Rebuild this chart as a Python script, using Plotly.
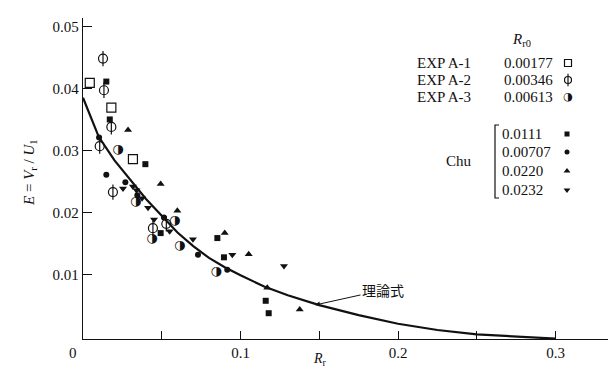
import plotly.graph_objects as go

# ---------------- data ----------------
# EXP A-1 (R_r0 = 0.00177), open square
a1_x = [0.0043, 0.0180, 0.0317]
a1_y = [0.0409, 0.0369, 0.0286]
# EXP A-2 (R_r0 = 0.00346), circle with vertical bar
a2_x = [0.0127, 0.0133, 0.0180, 0.0106, 0.0190, 0.0444, 0.0529]
a2_y = [0.0448, 0.0397, 0.0338, 0.0307, 0.0233, 0.0175, 0.0182]
# EXP A-3 (R_r0 = 0.00613), half-filled circle
a3_x = [0.0222, 0.0335, 0.0582, 0.0438, 0.0614, 0.0846]
a3_y = [0.0302, 0.0217, 0.0187, 0.0158, 0.0146, 0.0105]
# Chu 0.0111, filled square
c1_x = [0.0148, 0.0170, 0.0396, 0.0493, 0.0853, 0.0895, 0.1160, 0.1179]
c1_y = [0.0411, 0.0350, 0.0278, 0.0167, 0.0159, 0.0128, 0.0058, 0.0038]
# Chu 0.00707, filled circle
c2_x = [0.0102, 0.0148, 0.0269, 0.0345, 0.0514, 0.0730, 0.0916]
c2_y = [0.0321, 0.0261, 0.0249, 0.0228, 0.0192, 0.0132, 0.0108]
# Chu 0.0220, triangle up
c3_x = [0.0286, 0.0493, 0.0599, 0.0900, 0.1052, 0.1170, 0.1376]
c3_y = [0.0333, 0.0246, 0.0203, 0.0167, 0.0133, 0.0079, 0.0044]
# Chu 0.0232, triangle down
c4_x = [0.0254, 0.0317, 0.0340, 0.0375, 0.0413, 0.0451, 0.0550, 0.0698, 0.0948, 0.1276]
c4_y = [0.0239, 0.0242, 0.0236, 0.0223, 0.0208, 0.0189, 0.0170, 0.0157, 0.0132, 0.0114]
# theoretical curve (理論式)
th_x = [0.0, 0.01, 0.02, 0.03, 0.04, 0.05, 0.06, 0.07, 0.08, 0.09, 0.10,
        0.115, 0.13, 0.15, 0.175, 0.20, 0.225, 0.25, 0.275, 0.30]
th_y = [0.0385, 0.0322, 0.0284, 0.0253, 0.0222, 0.0195, 0.0168, 0.0146, 0.0127,
        0.0112, 0.0099, 0.0081, 0.0067, 0.0051, 0.0035, 0.0021, 0.0011, 0.0004,
        0.0000, -0.0003]

legend_names = ["EXP A-1", "EXP A-2", "EXP A-3"]
legend_vals = ["0.00177", "0.00346", "0.00613"]
chu_vals = ["0.0111", "0.00707", "0.0220", "0.0232"]

x_ticks = [0.10, 0.20, 0.30]
x_ticktext = ["0.1", "0.2", "0.3"]
x_minor = [0.05, 0.15, 0.25]
y_ticks = [0.01, 0.02, 0.03, 0.04, 0.05]
y_ticktext = ["0.01", "0.02", "0.03", "0.04", "0.05"]

# ---------------- helpers: pixel -> data / paper ----------------
L, T, W, H = 75, 10, 540, 321

def X(px):
    return (px - 75) / 1575.0

def Y(py):
    return (328.8 - py) / 6210.0

def PX(px):
    return (px - L) / W

def PY(py):
    return (T + H - py) / H

SERIF = "Liberation Serif, Times New Roman, serif"
BLACK = "#111111"

fig = go.Figure()

# theoretical curve
fig.add_trace(go.Scatter(x=th_x, y=th_y, mode="lines",
                         line=dict(color=BLACK, width=2.2), showlegend=False))

def sq_open(x, y, size=9):
    return go.Scatter(x=x, y=y, mode="markers", showlegend=False,
                      marker=dict(symbol="square-open", size=size,
                                  color=BLACK, line=dict(width=1.2, color=BLACK)))

def phi(x, y, size=9):
    t1 = go.Scatter(x=x, y=y, mode="markers", showlegend=False,
                    marker=dict(symbol="circle-open", size=size,
                                color=BLACK, line=dict(width=1.2, color=BLACK)))
    t2 = go.Scatter(x=x, y=y, mode="markers", showlegend=False,
                    marker=dict(symbol="line-ns-open", size=size + 2,
                                color=BLACK, line=dict(width=1.2, color=BLACK)))
    return [t1, t2]

def half(x, y, size=13):
    return go.Scatter(x=x, y=y, mode="text", text=["◑"] * len(x), showlegend=False,
                      textposition="middle center",
                      textfont=dict(family="DejaVu Sans", size=size, color=BLACK))

def filled(x, y, symbol, size):
    return go.Scatter(x=x, y=y, mode="markers", showlegend=False,
                      marker=dict(symbol=symbol, size=size, color=BLACK,
                                  line=dict(width=0)))

fig.add_trace(sq_open(a1_x, a1_y))
for t in phi(a2_x, a2_y):
    fig.add_trace(t)
fig.add_trace(half(a3_x, a3_y))
fig.add_trace(filled(c1_x, c1_y, "square", 6))
fig.add_trace(filled(c2_x, c2_y, "circle", 6))
fig.add_trace(filled(c3_x, c3_y, "triangle-up", 7))
fig.add_trace(filled(c4_x, c4_y, "triangle-down", 7))

# ---------------- custom legend ----------------
def label(px, py, text, xanchor="left", size=15, family=SERIF, **kw):
    d = dict(xref="paper", yref="paper", x=PX(px), y=PY(py), text=text,
             showarrow=False, xanchor=xanchor, yanchor="middle",
             font=dict(family=family, size=size, color=BLACK))
    d.update(kw)
    return d

ann = []
ann.append(label(513, 32, "<i>R</i><sub>r0</sub>", xanchor="center"))
rows_y = [55, 72, 89]
for name, val, py in zip(legend_names, legend_vals, rows_y):
    ann.append(label(407, py, name))
    ann.append(label(494, py, val))
fig.add_trace(sq_open([X(560)], [Y(rows_y[0])], size=7))
for t in phi([X(560)], [Y(rows_y[1])], size=7):
    fig.add_trace(t)
fig.add_trace(half([X(560)], [Y(rows_y[2])], size=11))

chu_y = [126, 144, 163, 182]
for val, py in zip(chu_vals, chu_y):
    ann.append(label(492, py, val))
fig.add_trace(filled([X(559)], [Y(chu_y[0])], "square", 5))
fig.add_trace(filled([X(559)], [Y(chu_y[1])], "circle", 5))
fig.add_trace(filled([X(559)], [Y(chu_y[2])], "triangle-up", 6))
fig.add_trace(filled([X(559)], [Y(chu_y[3])], "triangle-down", 6))
ann.append(label(451, 153, "Chu", xanchor="center"))

shapes = [
    dict(type="path", xref="paper", yref="paper",
         path=f"M {PX(491)} {PY(117)} L {PX(487)} {PY(117)} L {PX(487)} {PY(190)} L {PX(491)} {PY(190)}",
         line=dict(color=BLACK, width=1.2)),
]

# axis titles and origin label
ann.append(label(65, 345, "0", xanchor="center"))
ann.append(label(312, 352, "<i>R</i><sub>r</sub>", xanchor="center", size=14))
ann.append(label(22, 165, "<i>E</i> = <i>V</i><sub>r</sub> / <i>U</i><sub>1</sub>",
                 xanchor="center", textangle=-90))
# 理論式 arrow
ann.append(dict(x=X(307), y=Y(297), ax=68, ay=-15, text="理論式",
                showarrow=True, arrowhead=2, arrowsize=1, arrowwidth=1,
                arrowcolor=BLACK, standoff=0,
                font=dict(family="Noto Sans CJK JP", size=14, color=BLACK)))

fig.update_layout(
    width=616, height=374,
    margin=dict(l=L, r=616 - L - W, t=T, b=374 - T - H),
    plot_bgcolor="white", paper_bgcolor="white",
    annotations=ann, shapes=shapes,
    xaxis=dict(range=[X(L), X(L + W)], showline=True, linecolor=BLACK, linewidth=1.3,
               ticks="inside", ticklen=8, tickcolor=BLACK, tickwidth=1,
               tickvals=x_ticks, ticktext=x_ticktext, showgrid=False, zeroline=False,
               minor=dict(tickvals=x_minor, ticks="inside", ticklen=8,
                          tickcolor=BLACK, tickwidth=1, showgrid=False),
               tickfont=dict(family=SERIF, size=15, color=BLACK)),
    yaxis=dict(range=[Y(T + H), Y(T)], showline=True, linecolor=BLACK, linewidth=1.3,
               ticks="inside", ticklen=9, tickcolor=BLACK, tickwidth=1,
               tickvals=y_ticks, ticktext=y_ticktext, showgrid=False, zeroline=False,
               tickfont=dict(family=SERIF, size=15, color=BLACK)),
)

fig.write_html("out.html")
